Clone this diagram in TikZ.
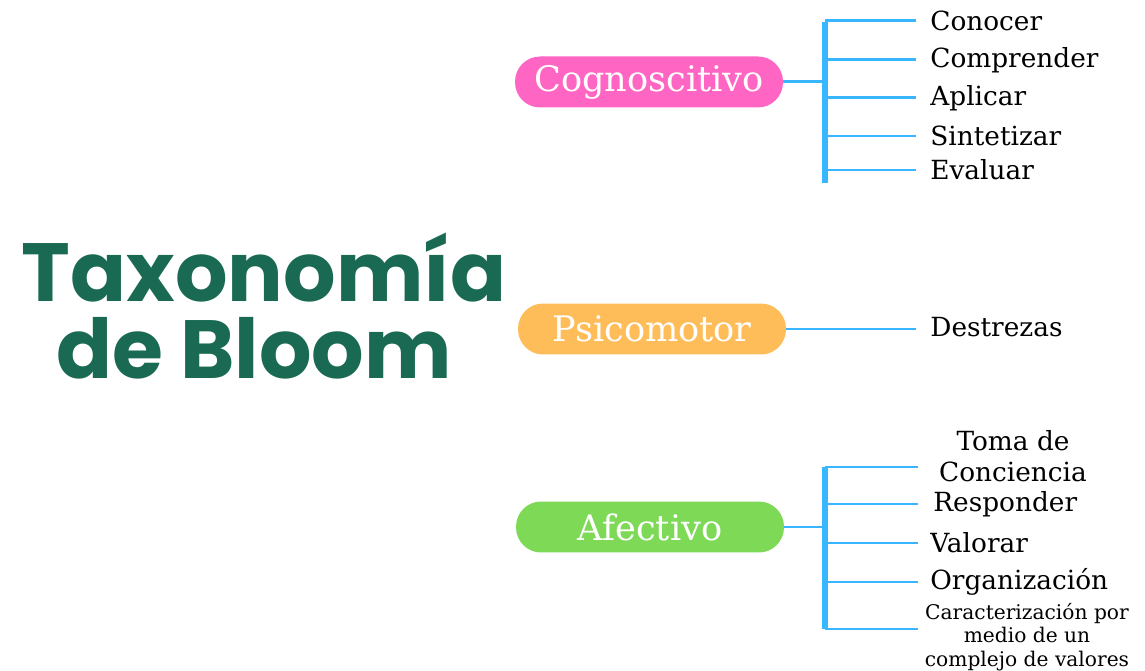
\documentclass[tikz,border=0pt]{standalone}
\usepackage{fontspec}
\setmainfont{DejaVu Serif}
\newfontfamily\titlefont{Poppins}
\usepackage{xcolor}
\definecolor{bloomgreen}{HTML}{1A6A53}
\definecolor{cogpink}{HTML}{FF66C4}
\definecolor{psiorange}{HTML}{FFBD59}
\definecolor{afegreen}{HTML}{7ED957}
\definecolor{linkblue}{HTML}{38B6FF}
\tikzset{
    pill/.style = {rectangle, rounded corners=0.5cm, minimum width=5.36cm, minimum height=1.02cm, text=white, font=\fontsize{20}{24}\selectfont},
    leaf/.style = {anchor=west, inner sep=0pt, font=\fontsize{15}{18}\selectfont},
    small-leaf/.style = {align=center, inner sep=0pt, font=\fontsize{11.5}{13.5}\selectfont},
    title-line/.style = {text=bloomgreen, inner sep=0pt, font=\titlefont\bfseries\fontsize{47}{50}\selectfont},
    branch/.style = {draw=linkblue, line width=1.7pt},
    trunk/.style = {draw=linkblue, line width=3.4pt},
}

\begin{document}
\begin{tikzpicture}[x=0.02cm, y=-0.02cm]
\useasboundingbox (0,0) rectangle (1145,671);

% title
\node[title-line, anchor=base, text depth=0pt] (title-top) at (264,302) {Taxonom\'ia};
\node[title-line, anchor=base] (title-bot) at (254,379) {de Bloom};

% the three domains
\node[pill, fill=cogpink] (cog) at (649,82) {Cognoscitivo};
\node[pill, fill=psiorange] (psi) at (652,329) {Psicomotor};
\node[pill, fill=afegreen] (afe) at (650,527) {Afectivo};

% cognoscitivo
\coordinate (cogtop) at (825,22);
\coordinate (cogbot) at (825,183);
\coordinate (cogend) at (916,0);
\draw[trunk] (cogtop) -- (cogbot);
\draw[branch] (cog.east) -- (cog.east -| cogtop);
\foreach \name/\y in {Conocer/21, Comprender/60, Aplicar/98, Sintetizar/136, Evaluar/170}{
    \node[leaf] (\name) at (930,\y) {\name};
    \draw[branch] (cogtop |- \name.west) -- (\name.west -| cogend);
}

% psicomotor
\node[leaf] (destrezas) at (930,327) {Destrezas};
\draw[branch] (psi.east) -- (psi.east -| cogend);

% afectivo
\coordinate (afetop) at (825,467);
\coordinate (afebot) at (825,629);
\coordinate (afeend) at (918,0);
\draw[trunk] (afetop) -- (afebot);
\draw[branch] (afe.east) -- (afe.east -| afetop);
\node[leaf, align=center, anchor=center] (toma) at (1013,456) {Toma de\\Conciencia};
\node[leaf] (responder) at (933,504) {Responder};
\node[leaf] (valorar) at (930,543) {Valorar};
\node[leaf] (organiz) at (930,582) {Organizaci\'on};
\node[small-leaf] (caract) at (1027,637) {Caracterizaci\'on por\\medio de un\\complejo de valores};
\draw[branch] (afetop) -- (afetop -| afeend);
\foreach \leafname in {responder, valorar, organiz}
    \draw[branch] (afetop |- \leafname.west) -- (\leafname.west -| afeend);
\draw[branch] (afebot) -- (afebot -| afeend);
\end{tikzpicture}
\end{document}
